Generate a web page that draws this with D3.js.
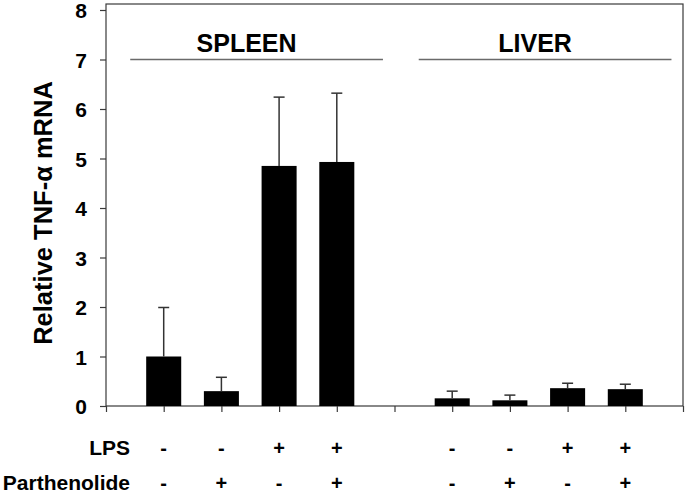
<!DOCTYPE html>
<html>
<head>
<meta charset="utf-8">
<script src="https://cdn.jsdelivr.net/npm/d3@7"></script>
<style>
  body { margin: 0; background: #fff; }
  svg { display: block; font-family: "Liberation Sans", Arial, sans-serif; font-weight: bold; }
</style>
</head>
<body>
<svg id="chart" width="685" height="495"></svg>
<script>
const tissues = ['SPLEEN', 'LIVER'];
const tissueOf = ['SPLEEN', 'SPLEEN', 'SPLEEN', 'SPLEEN', 'LIVER', 'LIVER', 'LIVER', 'LIVER'];
const slots = [1, 2, 3, 4, 6, 7, 8, 9];
const lps = ['-', '-', '+', '+', '-', '-', '+', '+'];
const parthenolide = ['-', '+', '-', '+', '-', '+', '-', '+'];
const means = [1.00, 0.30, 4.85, 4.93, 0.155, 0.115, 0.36, 0.34];
const errors = [0.99, 0.28, 1.39, 1.39, 0.145, 0.105, 0.10, 0.10];
const yTicks = [0, 1, 2, 3, 4, 5, 6, 7, 8];
const xTicks = [0, 1, 2, 3, 4, 5, 6, 7, 8, 9, 10];
const groupLevel = 7;

const margin = {top: 4, right: 2, bottom: 89, left: 106};

class TnfChart {
  constructor(element) {
    this.svg = d3.select(element);
    this.contentWidth = this.svg.attr('width') - margin.left - margin.right;
    this.contentHeight = this.svg.attr('height') - margin.top - margin.bottom;
    this.g = this.svg.append('g').attr('transform', `translate(${margin.left}, ${margin.top})`);

    this.xRange = d3.scaleLinear().domain([0, 10]).range([0, this.contentWidth]);
    this.yRange = d3.scaleLinear().domain([0, 8]).range([this.contentHeight, 6]);

    this.rows = slots.map((s, i) => ({
      slot: s, mean: means[i], err: errors[i], lps: lps[i], parth: parthenolide[i], tissue: tissueOf[i]
    }));
  }

  render() {
    const x = this.xRange, y = this.yRange;
    const slotW = x(1) - x(0);
    const barW = slotW * 0.607;

    // frame
    this.g.append('rect')
      .attr('x', 0).attr('y', 0)
      .attr('width', this.contentWidth).attr('height', this.contentHeight)
      .attr('fill', 'none').attr('stroke', '#3a3a3a').attr('stroke-width', 1.2);

    const yAxis = this.g.append('g')
      .call(d3.axisLeft(y).tickValues(yTicks).tickSize(6).tickPadding(13).tickFormat(d3.format('d')));
    yAxis.select('.domain').remove();
    yAxis.selectAll('line').attr('stroke', '#3a3a3a').attr('stroke-width', 1.2);
    yAxis.selectAll('text').attr('font-size', 21).attr('fill', '#000').attr('dy', '0.36em');

    const xAxis = this.g.append('g')
      .attr('transform', `translate(0,${this.contentHeight})`)
      .call(d3.axisBottom(x).tickValues(xTicks).tickSize(6).tickFormat(''));
    xAxis.select('.domain').remove();
    xAxis.selectAll('line').attr('stroke', '#3a3a3a').attr('stroke-width', 1.2);

    // bars
    this.g.selectAll('.bar').data(this.rows).enter().append('rect')
      .attr('class', 'bar')
      .attr('x', d => x(d.slot) - barW / 2)
      .attr('y', d => y(d.mean))
      .attr('width', barW)
      .attr('height', d => y(0) - y(d.mean))
      .attr('fill', '#000');

    // error bars
    const err = this.g.selectAll('.err').data(this.rows).enter().append('g').attr('class', 'err')
      .attr('stroke', '#333').attr('stroke-width', 1.5);
    err.append('line')
      .attr('x1', d => x(d.slot)).attr('x2', d => x(d.slot))
      .attr('y1', d => y(d.mean)).attr('y2', d => y(d.mean + d.err));
    err.append('line')
      .attr('x1', d => x(d.slot) - 5.5).attr('x2', d => x(d.slot) + 5.5)
      .attr('y1', d => y(d.mean + d.err)).attr('y2', d => y(d.mean + d.err));

    // tissue groups
    tissues.forEach(t => {
      const s = this.rows.filter(d => d.tissue === t).map(d => d.slot);
      const x0 = x(d3.min(s) - 0.58), x1 = x(d3.max(s) + 0.8);
      this.g.append('line')
        .attr('x1', x0).attr('x2', x1)
        .attr('y1', y(groupLevel)).attr('y2', y(groupLevel))
        .attr('stroke', '#6a6a6a').attr('stroke-width', 1.3);
      this.g.append('text')
        .attr('x', (x0 + x1) / 2 - 10).attr('y', y(groupLevel) - 8)
        .attr('text-anchor', 'middle').attr('font-size', 25)
        .text(t);
    });

    // y label
    this.svg.append('text')
      .attr('transform', `translate(52, ${margin.top + this.contentHeight / 2 + 8}) rotate(-90)`)
      .attr('text-anchor', 'middle').attr('font-size', 25.5)
      .text('Relative TNF-α mRNA');

    // treatment rows
    const rowY = [455, 490];
    const rowNames = ['LPS', 'Parthenolide'];
    const rowKeys = ['lps', 'parth'];
    rowNames.forEach((name, k) => {
      this.svg.append('text')
        .attr('x', 130).attr('y', rowY[k])
        .attr('text-anchor', 'end').attr('font-size', 21)
        .text(name);
      this.svg.selectAll(`.sign-${k}`).data(this.rows).enter().append('text')
        .attr('class', `sign-${k}`)
        .attr('x', d => margin.left + x(d.slot))
        .attr('y', rowY[k])
        .attr('text-anchor', 'middle').attr('font-size', 20)
        .text(d => d[rowKeys[k]]);
    });
  }
}

new TnfChart('#chart').render();
</script>
</body>
</html>
